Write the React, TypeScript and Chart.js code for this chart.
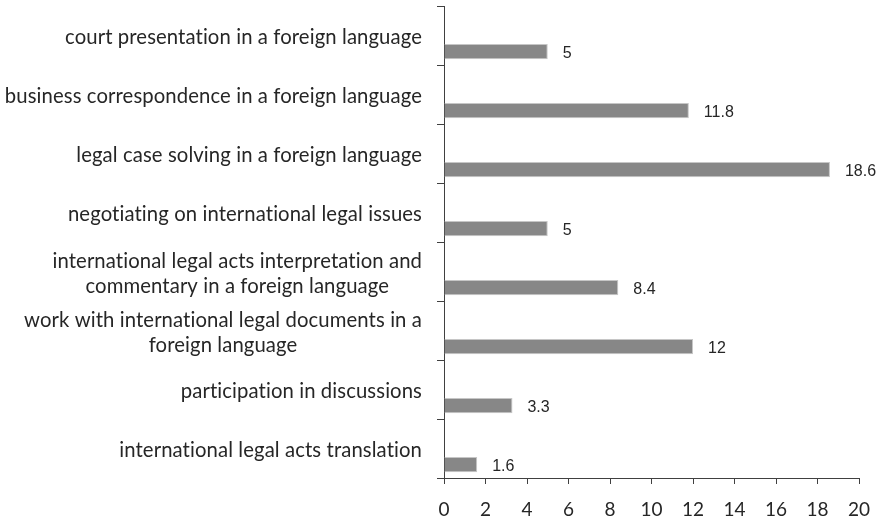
import React, { useEffect, useRef } from 'react';
import { Chart, registerables } from 'chart.js';

Chart.register(...registerables);

const categories: string[][] = [
  ['court presentation in a foreign language'],
  ['business correspondence in a foreign language'],
  ['legal case solving in a foreign language'],
  ['negotiating on international legal issues'],
  ['international legal acts interpretation and', 'commentary in a foreign language'],
  ['work with international legal documents in a', 'foreign language'],
  ['participation in discussions'],
  ['international legal acts translation'],
];
const values: number[] = [5, 11.8, 18.6, 5, 8.4, 12, 3.3, 1.6];
const blank: (number | null)[] = [null, null, null, null, null, null, null, null];
const xMin = 0;
const xMax = 20;
const xStep = 2;

const AXIS_COLOR = '#404040';
const TEXT_COLOR = '#262626';
const LABEL_FONT = '20.3px Lato';
const VALUE_FONT = '16px "Liberation Sans"';

const categoryLabelPlugin = {
  id: 'categoryLabels',
  afterDraw(chart: any) {
    const ctx = chart.ctx;
    const yScale = chart.scales.y;
    const right = chart.chartArea.left - 22;
    const lineH = 25;
    ctx.save();
    ctx.font = LABEL_FONT;
    try {
      ctx.letterSpacing = '0.1px';
    } catch (e) {}
    ctx.fillStyle = TEXT_COLOR;
    ctx.textBaseline = 'middle';
    ctx.textAlign = 'center';
    categories.forEach((lines, i) => {
      const cy = yScale.getPixelForValue(i);
      const w = Math.max(...lines.map((l) => ctx.measureText(l).width));
      const cx = right - w / 2;
      const startY = cy - ((lines.length - 1) * lineH) / 2 + 2;
      lines.forEach((l, j) => ctx.fillText(l, cx, startY + j * lineH));
    });
    ctx.restore();
  },
};

const valueLabelPlugin = {
  id: 'valueLabels',
  afterDatasetsDraw(chart: any) {
    const ctx = chart.ctx;
    const meta = chart.getDatasetMeta(1);
    ctx.save();
    ctx.font = VALUE_FONT;
    ctx.fillStyle = TEXT_COLOR;
    ctx.textBaseline = 'middle';
    ctx.textAlign = 'left';
    meta.data.forEach((bar: any, i: number) => {
      ctx.fillText(String(values[i]), bar.x + 15, bar.y + 2);
    });
    ctx.restore();
  },
};

export default function App() {
  const canvasRef = useRef<HTMLCanvasElement | null>(null);

  useEffect(() => {
    if (!canvasRef.current) return;
    const chart = new Chart(canvasRef.current, {
      type: 'bar',
      data: {
        labels: categories.map((c) => c.join(' ')),
        datasets: [
          {
            label: 'blank',
            data: blank as any,
            backgroundColor: 'rgba(0,0,0,0)',
          },
          {
            label: 'values',
            data: values,
            backgroundColor: '#878787',
            borderColor: '#c6c6c6',
            borderWidth: 1,
          },
        ],
      },
      options: {
        indexAxis: 'y',
        animation: false,
        responsive: false,
        devicePixelRatio: 1,
        categoryPercentage: 1.1,
        barPercentage: 0.47,
        layout: { padding: { top: 6, right: 21, left: 0, bottom: 0 } },
        plugins: {
          legend: { display: false },
          tooltip: { enabled: false },
        },
        scales: {
          x: {
            type: 'linear',
            min: xMin,
            max: xMax,
            ticks: {
              stepSize: xStep,
              color: TEXT_COLOR,
              font: { family: 'Lato', size: 19 },
              padding: 14,
            },
            grid: {
              drawOnChartArea: false,
              drawTicks: true,
              tickLength: 6,
              color: AXIS_COLOR,
            },
            border: { display: true, color: AXIS_COLOR, width: 1 },
            afterFit(scale: any) {
              scale.height = 39;
              scale.paddingLeft = 0;
              scale.paddingRight = 0;
            },
          },
          y: {
            type: 'category',
            ticks: { display: false },
            grid: {
              drawOnChartArea: false,
              drawTicks: true,
              tickLength: 7,
              offset: true,
              color: AXIS_COLOR,
            },
            border: { display: true, color: AXIS_COLOR, width: 1 },
            afterFit(scale: any) {
              scale.width = 444;
              scale.paddingTop = 0;
              scale.paddingBottom = 0;
            },
          },
        },
      } as any,
      plugins: [categoryLabelPlugin, valueLabelPlugin],
    });
    return () => chart.destroy();
  }, []);

  return (
    <div style={{ position: 'absolute', left: 0, top: 0, width: 880, height: 517, background: '#fff' }}>
      <canvas ref={canvasRef} width={880} height={517} style={{ display: 'block' }} />
    </div>
  );
}
